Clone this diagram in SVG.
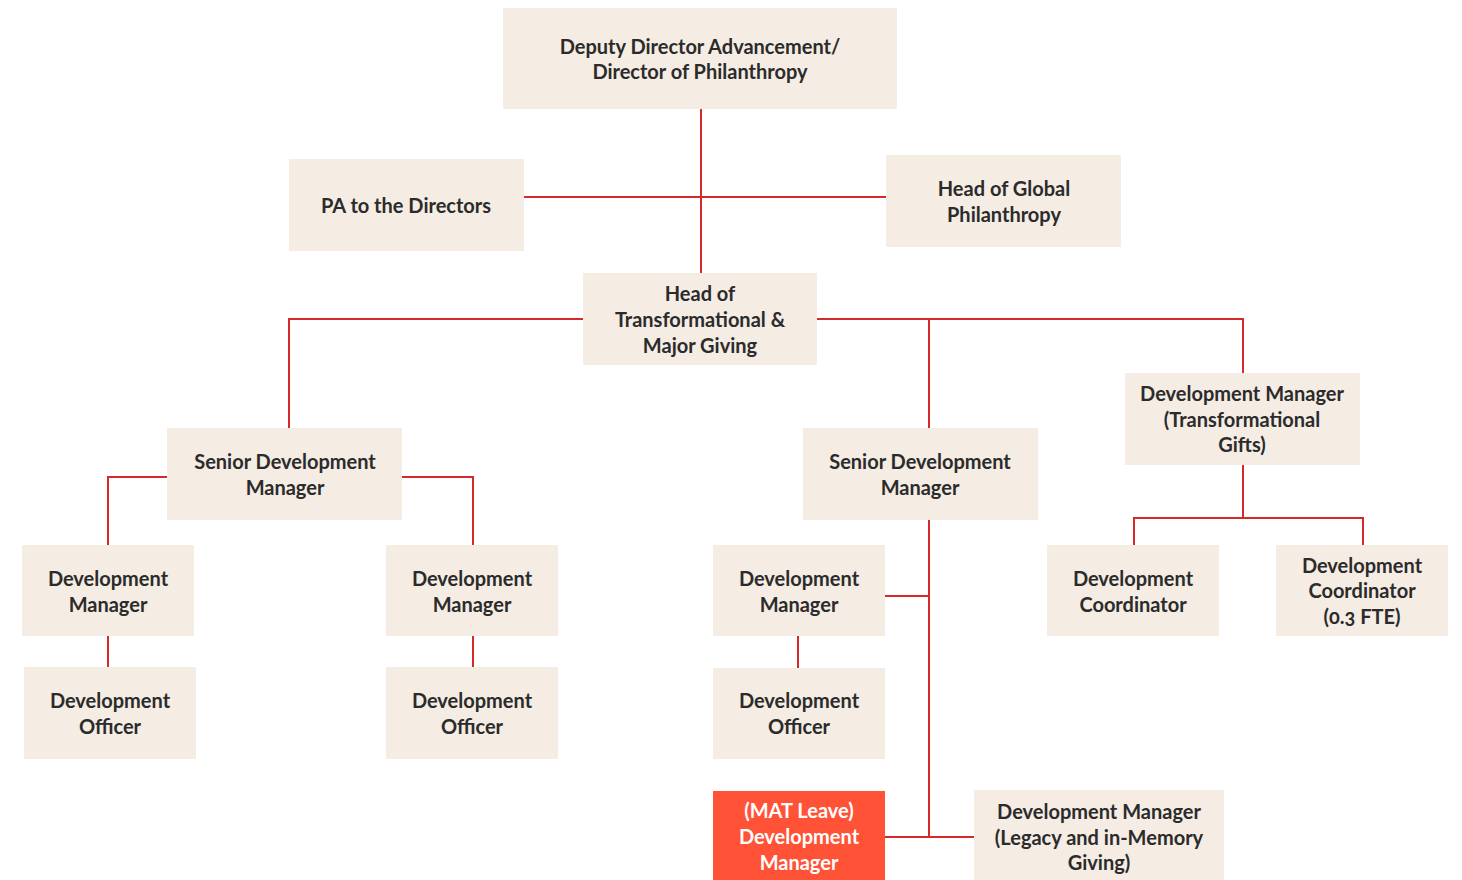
<svg xmlns="http://www.w3.org/2000/svg" width="1462" height="880" viewBox="0 0 1462 880">
<style>
.b{fill:#f5ece3}
.m{fill:#ff5236}
text{font-family:Lato,"Open Sans",sans-serif;font-weight:700;font-size:20px;fill:#2b2b2b;text-anchor:middle}
.w{fill:#ffffff}
.o{font-variant-numeric:oldstyle-nums}
.c{stroke:#d42a2a;stroke-width:2;fill:none}
</style>
<rect width="1462" height="880" fill="#ffffff"/>
<g id="connectors" class="c">
<path d="M701 109V273"/>
<path d="M524 197H886"/>
<path d="M583 319H289V428"/>
<path d="M817 319H1243V373"/>
<path d="M929 319V428"/>
<path d="M167 477H108V545"/>
<path d="M402 477H473V545"/>
<path d="M108 636V667"/>
<path d="M473 636V667"/>
<path d="M929 520V837"/>
<path d="M885 596H929"/>
<path d="M885 837H974"/>
<path d="M798 636V668"/>
<path d="M1243 465V518"/>
<path d="M1134 545V518H1363V545"/>
</g>
<g id="n1"><rect class="b" x="503" y="8" width="394" height="101"/><text x="700" y="54">Deputy Director Advancement/</text><text x="700" y="79">Director of Philanthropy</text></g>
<g id="n2"><rect class="b" x="289" y="159" width="235" height="92"/><text x="406" y="213">PA to the Directors</text></g>
<g id="n3"><rect class="b" x="886" y="155" width="235" height="92"/><text x="1004" y="196">Head of Global</text><text x="1004" y="222">Philanthropy</text></g>
<g id="n4"><rect class="b" x="583" y="273" width="234" height="92"/><text x="700" y="301">Head of</text><text x="700" y="327">Transformational &amp;</text><text x="700" y="353">Major Giving</text></g>
<g id="n5"><rect class="b" x="167" y="428" width="235" height="92"/><text x="285" y="469">Senior Development</text><text x="285" y="495">Manager</text></g>
<g id="n6"><rect class="b" x="803" y="428" width="235" height="92"/><text x="920" y="469">Senior Development</text><text x="920" y="495">Manager</text></g>
<g id="n7"><rect class="b" x="1125" y="373" width="235" height="92"/><text x="1242" y="401">Development Manager</text><text x="1242" y="427">(Transformational</text><text x="1242" y="452">Gifts)</text></g>
<g id="n8"><rect class="b" x="22" y="545" width="172" height="91"/><text x="108" y="586">Development</text><text x="108" y="612">Manager</text></g>
<g id="n9"><rect class="b" x="24" y="667" width="172" height="92"/><text x="110" y="708">Development</text><text x="110" y="734">Officer</text></g>
<g id="n10"><rect class="b" x="386" y="545" width="172" height="91"/><text x="472" y="586">Development</text><text x="472" y="612">Manager</text></g>
<g id="n11"><rect class="b" x="386" y="667" width="172" height="92"/><text x="472" y="708">Development</text><text x="472" y="734">Officer</text></g>
<g id="n12"><rect class="b" x="713" y="545" width="172" height="91"/><text x="799" y="586">Development</text><text x="799" y="612">Manager</text></g>
<g id="n13"><rect class="b" x="713" y="668" width="172" height="91"/><text x="799" y="708">Development</text><text x="799" y="734">Officer</text></g>
<g id="n14"><rect class="m" x="713" y="791" width="172" height="89"/><text class="w" x="799" y="818">(MAT Leave)</text><text class="w" x="799" y="844">Development</text><text class="w" x="799" y="870">Manager</text></g>
<g id="n15"><rect class="b" x="974" y="790" width="250" height="90"/><text x="1099" y="819">Development Manager</text><text x="1099" y="845">(Legacy and in-Memory</text><text x="1099" y="870">Giving)</text></g>
<g id="n16"><rect class="b" x="1047" y="545" width="172" height="91"/><text x="1133" y="586">Development</text><text x="1133" y="612">Coordinator</text></g>
<g id="n17"><rect class="b" x="1276" y="545" width="172" height="91"/><text x="1362" y="573">Development</text><text x="1362" y="598">Coordinator</text><text class="o" x="1362" y="624">(0.3 FTE)</text></g>
</svg>
